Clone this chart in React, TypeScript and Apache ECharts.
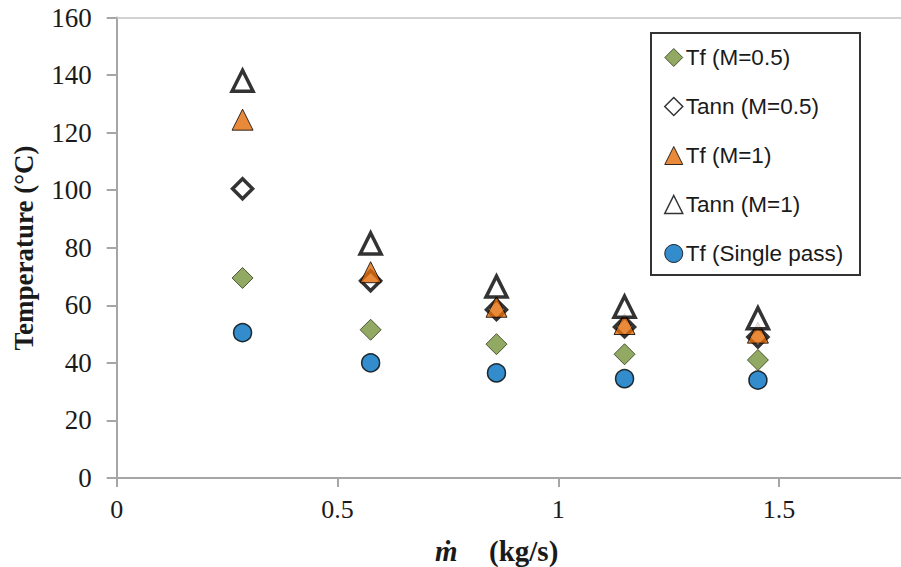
import React, { useEffect, useRef } from "react";
import * as echarts from "echarts";

const massFlow = [0.285, 0.575, 0.86, 1.15, 1.452];
const tfM05 = [69.5, 51.5, 46.5, 43, 41];
const tannM05 = [100.5, 68.5, 58.5, 52.5, 49];
const tfM1 = [124.5, 71.5, 59.5, 53.5, 50.5];
const tannM1 = [138, 81.5, 66.5, 59.5, 55.5];
const tfSingle = [50.5, 40, 36.5, 34.5, 34];

const seriesNames = ["Tf (M=0.5)", "Tann (M=0.5)", "Tf (M=1)", "Tann (M=1)", "Tf (Single pass)"];
const yTicks = { min: 0, max: 160, interval: 20 };
const xTicks = { min: 0, max: 1.776, interval: 0.5 };

const pairs = (ys: number[]) => massFlow.map((x, i) => [x, ys[i]]);

export default function App() {
  const ref = useRef<HTMLDivElement>(null);
  useEffect(() => {
    if (!ref.current) return;
    const chart = echarts.init(ref.current, undefined, { renderer: "svg" });
    const serif = "'Liberation Serif', 'Times New Roman', serif";
    const sans = "'Liberation Sans', Arial, sans-serif";
    const axisGray = "#a6a6a6";
    chart.setOption({
      animation: false,
      backgroundColor: "#ffffff",
      grid: {
        left: 116.7,
        top: 17.5,
        right: 0,
        bottom: 89,
        show: false,
      },
      xAxis: [
        {
          type: "value",
          min: xTicks.min,
          max: xTicks.max,
          interval: xTicks.interval,
          axisLine: { show: true, onZero: false, lineStyle: { color: axisGray, width: 2 } },
          axisTick: { show: true, inside: false, length: 9, lineStyle: { color: axisGray, width: 2 } },
          axisLabel: {
            showMaxLabel: false,
            margin: 18,
            fontFamily: serif,
            fontSize: 26,
            color: "#1a1a1a",
          },
          splitLine: { show: false },
        },
        {
          type: "value",
          position: "top",
          min: xTicks.min,
          max: xTicks.max,
          interval: xTicks.interval,
          axisLine: { show: true, onZero: false, lineStyle: { color: "#c4c4c4", width: 1.5 } },
          axisTick: { show: false },
          axisLabel: { show: false },
          splitLine: { show: false },
        },
      ],
      yAxis: {
        type: "value",
        min: yTicks.min,
        max: yTicks.max,
        interval: yTicks.interval,
        axisLine: { show: true, lineStyle: { color: axisGray, width: 2 } },
        axisTick: { show: true, inside: false, length: 10, lineStyle: { color: axisGray, width: 2 } },
        axisLabel: {
          margin: 25,
          fontFamily: serif,
          fontSize: 27,
          color: "#1a1a1a",
        },
        splitLine: { show: false },
      },
      legend: {
        orient: "vertical",
        left: 664,
        top: 46,
        itemWidth: 18,
        itemHeight: 18,
        itemGap: 26,
        padding: 0,
        textStyle: { fontFamily: sans, fontSize: 22.5, color: "#1a1a1a", padding: [0, 0, 0, -2] },
        data: [
          { name: seriesNames[0], itemStyle: { borderWidth: 1 } },
          { name: seriesNames[1], itemStyle: { borderWidth: 1.5 } },
          { name: seriesNames[2], itemStyle: { borderWidth: 1 } },
          { name: seriesNames[3], itemStyle: { borderWidth: 1.5 } },
          { name: seriesNames[4], itemStyle: { borderWidth: 1 } },
        ],
      },
      graphic: [
        {
          type: "rect",
          shape: { x: 651, y: 33, width: 209, height: 242 },
          style: { fill: "none", stroke: "#333333", lineWidth: 2 },
          z: 0,
        },
        {
          type: "text",
          x: 24,
          y: 248,
          rotation: Math.PI / 2,
          style: {
            text: "Temperature (°C)",
            font: `bold 27px ${serif}`,
            fill: "#1a1a1a",
            textAlign: "center",
            textVerticalAlign: "middle",
          },
        },
        {
          type: "text",
          x: 435,
          y: 551,
          style: {
            text: "ṁ",
            font: `italic bold 29px ${serif}`,
            fill: "#1a1a1a",
            textAlign: "left",
            textVerticalAlign: "middle",
          },
        },
        {
          type: "text",
          x: 489,
          y: 551,
          style: {
            text: "(kg/s)",
            font: `bold 29px ${serif}`,
            fill: "#1a1a1a",
            textAlign: "left",
            textVerticalAlign: "middle",
          },
        },
      ],
      series: [
        {
          name: seriesNames[0],
          type: "scatter",
          symbol: "diamond",
          symbolSize: 21,
          data: pairs(tfM05),
          itemStyle: { color: "#77933C", borderColor: "#2e3a17", borderWidth: 1 },
          z: 2,
        },
        {
          name: seriesNames[1],
          type: "scatter",
          symbol: "diamond",
          symbolSize: 20,
          data: pairs(tannM05),
          itemStyle: { color: "#ffffff", borderColor: "#000000", borderWidth: 3.5 },
          z: 3,
        },
        {
          name: seriesNames[2],
          type: "scatter",
          symbol: "triangle",
          symbolSize: 21,
          data: pairs(tfM1),
          itemStyle: { color: "#E36C09", borderColor: "#000000", borderWidth: 1 },
          z: 4,
        },
        {
          name: seriesNames[3],
          type: "scatter",
          symbol: "triangle",
          symbolSize: 21,
          data: pairs(tannM1),
          itemStyle: { color: "#ffffff", borderColor: "#000000", borderWidth: 3.5 },
          z: 5,
        },
        {
          name: seriesNames[4],
          type: "scatter",
          symbol: "circle",
          symbolSize: 18,
          data: pairs(tfSingle),
          itemStyle: { color: "#0070C0", borderColor: "#000000", borderWidth: 1.5 },
          z: 6,
        },
      ],
    });
    return () => chart.dispose();
  }, []);
  return (
    <div
      ref={ref}
      style={{ position: "fixed", left: 0, top: 0, width: 901, height: 567 }}
    />
  );
}
